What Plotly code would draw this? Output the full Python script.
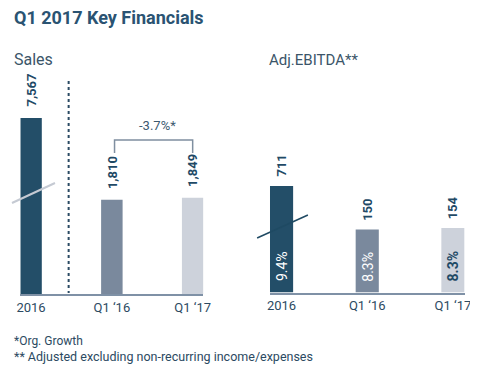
import plotly.graph_objects as go

# ---- data ----
periods = ["2016", "Q1 \u201816", "Q1 \u201817"]
sales = [7567, 1810, 1849]
sales_labels = ["7,567", "1,810", "1,849"]
ebitda = [711, 150, 154]
ebitda_labels = ["711", "150", "154"]
margins = ["9.4%", "8.3%", "8.3%"]
growth_label = "-3.7%*"

# ---- styles ----
PAGE_W, PAGE_H = 478, 369
OFF = 8                      # default page body margin
W, H = PAGE_W - OFF, PAGE_H - OFF
bar_colors = ["#234e68", "#7a899d", "#cdd2db"]
text_dark = "#1f4a66"
FONT = "Roboto"
SALES_MAX = 3380   # broken axis: taller bars are cut at the top
EBITDA_MAX = 254


def px(x):
    return min(max((x - OFF) / W, 0), 1)


def py(y):
    return min(max(1 - (y - OFF) / H, 0), 1)


fig = go.Figure()
fig.add_trace(go.Bar(x=periods, y=sales, marker=dict(color=bar_colors, line=dict(width=0)),
                     width=0.266, xaxis="x", yaxis="y", hoverinfo="skip"))
fig.add_trace(go.Bar(x=periods, y=ebitda, marker=dict(color=bar_colors, line=dict(width=0)),
                     width=0.27, xaxis="x2", yaxis="y2", hoverinfo="skip"))

axis_common = dict(type="category", showline=True, linecolor="#7f91a6", linewidth=2,
                   ticks="", showgrid=False, zeroline=False, fixedrange=True,
                   tickfont=dict(family=FONT, size=13, color="#2c4a62"),
                   ticklabelstandoff=0)

fig.update_layout(
    width=W, height=H, autosize=False, margin=dict(l=0, r=0, t=0, b=0),
    paper_bgcolor="white", plot_bgcolor="white", showlegend=False,
    font=dict(family=FONT),
    xaxis=dict(domain=[px(16.5), px(204)], range=[-0.133, 2.133], anchor="y", **axis_common),
    yaxis=dict(domain=[py(294), py(118)], range=[0, SALES_MAX], visible=False, fixedrange=True),
    xaxis2=dict(domain=[px(272), px(471.5)], range=[-0.137, 2.137], anchor="y2", **axis_common),
    yaxis2=dict(domain=[py(292.5), py(186)], range=[0, EBITDA_MAX], visible=False, fixedrange=True),
)

ann = []


def text_at(txt, x, y, size, color, anchor="left"):
    ann.append(dict(text=txt, x=px(x), y=py(y), xref="paper", yref="paper",
                    xanchor=anchor, yanchor="middle", showarrow=False,
                    font=dict(family=FONT, size=size, color=color)))


# titles
text_at("<b>Q1 2017 Key Financials</b>", 8, 18, 18, "#2a5372")
text_at("Sales", 8, 60, 16, "#3b5569")
text_at("Adj.EBITDA**", 269, 60, 15, "#3b5569")
# footnotes
text_at("*Org. Growth", 8, 341, 12, "#2c4a62")
text_at("** Adjusted excluding non-recurring income/expenses", 8, 356, 12.5, "#2c4a62")

# value labels (rotated); x given as category index
for i, (v, lab) in enumerate(zip(sales, sales_labels)):
    if v > SALES_MAX:
        yref, yv = "y domain", 1
    else:
        yref, yv = "y", v
    ann.append(dict(text="<b>" + lab + "</b>", x=i, y=yv, xref="x", yref=yref, textangle=-90,
                    xanchor="center", yanchor="bottom", yshift=9, showarrow=False,
                    font=dict(family=FONT, size=13, color=text_dark)))
for i, (v, lab) in enumerate(zip(ebitda, ebitda_labels)):
    if v > EBITDA_MAX:
        yref, yv = "y2 domain", 1
    else:
        yref, yv = "y2", v
    ann.append(dict(text="<b>" + lab + "</b>", x=i, y=yv, xref="x2", yref=yref, textangle=-90,
                    xanchor="center", yanchor="bottom", yshift=7, showarrow=False,
                    font=dict(family=FONT, size=13, color=text_dark)))
# margin labels inside bars
m_colors = ["white", "white", text_dark]
for i, lab in enumerate(margins):
    txt = "<b>" + lab + "</b>" if i == 2 else lab
    ann.append(dict(text=txt, x=i, y=0, xref="x2", yref="y2", textangle=-90,
                    xanchor="center", yanchor="bottom", yshift=9, showarrow=False,
                    font=dict(family=FONT, size=14, color=m_colors[i])))
# growth label
text_at(growth_label, 157, 125, 13, "#3d5a70", anchor="center")
fig.update_layout(annotations=ann)

shapes = []
# separator dotted line
shapes.append(dict(type="line", xref="paper", yref="paper", x0=px(66), x1=px(66),
                   y0=py(81), y1=py(293), line=dict(color="#2a4a63", width=2, dash="dot")))
# growth bracket
shapes.append(dict(type="path", xref="paper", yref="paper",
                   path=f"M {px(113)} {py(153)} L {px(113)} {py(140)} L {px(193)} {py(140)} L {px(193)} {py(153)}",
                   line=dict(color="#7f8fa0", width=1.5)))
# axis break marks
shapes.append(dict(type="line", xref="paper", yref="paper", x0=px(8), y0=py(203),
                   x1=px(52), y1=py(183), line=dict(color="#c5cad3", width=2)))
shapes.append(dict(type="line", xref="paper", yref="paper", x0=px(259), y0=py(238),
                   x1=px(311), y1=py(215), line=dict(color="#1f4a63", width=1.5)))
fig.update_layout(shapes=shapes)

fig.write_html("out.html", config={"responsive": False})
